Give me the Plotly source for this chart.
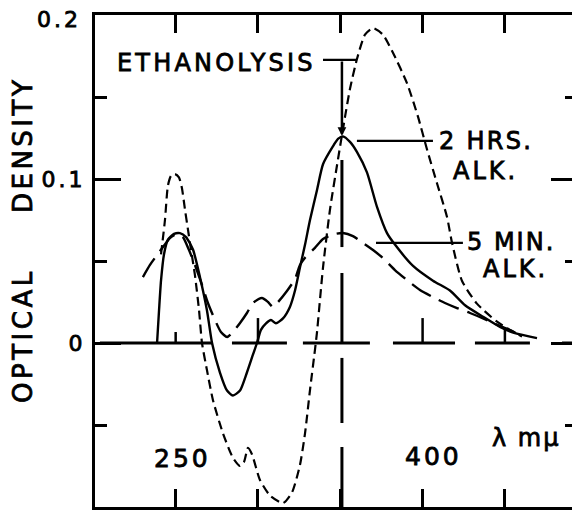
import plotly.graph_objects as go

# ---- data (wavelength in mμ, optical density) ----
wl_ethanolysis = [241.1, 243.5, 245.3, 247.2, 249.6, 252.0, 253.8, 255.7, 257.5, 259.3, 261.7, 264.2, 266.0,
                  269.0, 272.7, 278.7, 284.8, 289.1, 291.5, 293.9, 296.4, 301.2, 307.3, 315.2, 320.7, 325.5,
                  328.6, 331.6, 334.6, 335.8, 339.5, 343.7, 348.6, 352.9, 355.9, 360.1, 365.0, 369.9, 375.9,
                  382.0, 390.5, 397.2, 402.7, 408.7, 414.8, 417.9, 423.9, 433.0, 445.2, 453.1, 460.4]
od_ethanolysis = [0.054, 0.075, 0.096, 0.102, 0.103, 0.101, 0.0945, 0.081, 0.069, 0.057, 0.0415, 0.020, 0.0,
                  -0.0165, -0.035, -0.055, -0.070, -0.075, -0.0726, -0.064, -0.068, -0.0835, -0.093, -0.0976,
                  -0.091, -0.0744, -0.055, -0.0287, -0.0043, 0.006, 0.046, 0.081, 0.112, 0.138, 0.155, 0.173,
                  0.188, 0.192, 0.188, 0.177, 0.1585, 0.138, 0.118, 0.0976, 0.077, 0.061, 0.038, 0.024, 0.013,
                  0.008, 0.004]

wl_2hrs = [238.7, 239.9, 241.1, 242.9, 245.3, 249.0, 252.6, 256.3, 260.5, 264.8, 269.0, 272.1, 276.9, 281.2,
           284.8, 289.1, 293.3, 297.0, 299.4, 301.8, 304.9, 307.9, 310.9, 315.2, 319.4, 322.5, 325.5, 328.6,
           331.6, 335.8, 339.5, 345.6, 348.6, 351.6, 355.9, 360.1, 366.2, 372.3, 378.4, 383.2, 394.2, 406.3,
           416.6, 425.8, 436.7, 447.0, 456.1, 469.5]
od_2hrs = [0.0, 0.020, 0.038, 0.054, 0.063, 0.0665, 0.067, 0.0646, 0.057, 0.040, 0.020, 0.0, -0.018, -0.029,
           -0.032, -0.029, -0.018, -0.007, 0.0, 0.008, 0.012, 0.014, 0.012, 0.015, 0.022, 0.032, 0.046, 0.060,
           0.075, 0.093, 0.109, 0.120, 0.1244, 0.126, 0.1226, 0.1165, 0.104, 0.083, 0.067, 0.060, 0.047, 0.038,
           0.032, 0.023, 0.016, 0.0098, 0.006, 0.003]

wl_5min = [230.1, 234.4, 238.7, 242.3, 246.5, 250.8, 254.4, 258.1, 261.7, 266.0, 269.6, 273.9, 277.5, 281.2,
           284.8, 289.1, 293.3, 297.0, 302.4, 306.1, 309.1, 312.2, 317.6, 322.5, 325.5, 328.6, 334.6, 339.5,
           346.8, 351.6, 357.7, 363.8, 369.9, 375.9, 383.2, 390.5, 398.4, 406.3, 413.6, 420.9, 428.8, 439.1,
           447.0, 453.1, 461.0]
od_5min = [0.0402, 0.0476, 0.0537, 0.0585, 0.064, 0.0665, 0.0646, 0.0567, 0.0476, 0.0354, 0.0244, 0.014,
           0.0067, 0.0037, 0.0067, 0.0122, 0.0183, 0.0244, 0.0274, 0.025, 0.022, 0.025, 0.0317, 0.039, 0.0476,
           0.052, 0.058, 0.0634, 0.0665, 0.0671, 0.0652, 0.061, 0.0567, 0.0518, 0.0445, 0.0384, 0.0323, 0.028,
           0.0244, 0.0213, 0.0183, 0.014, 0.0104, 0.0079, 0.0037]

x_ticks = [250, 300, 350, 400, 450]
x_labels = ["250", "400"]
y_ticks = [-0.1, 0.0, 0.1, 0.2]
y_ticktext = ["", "0", "0.1", ""]
y_top_label = "0.2"
y_minor = [-0.05, 0.05, 0.15]

# dashed baseline (OD = 0) pieces and the dashed marker at 350 mμ
zero_segments = [(204.0, 272.7), (284.2, 317.6), (327.3, 368.0), (382.0, 419.7), (431.8, 465.2), (484.7, 493.8)]
zero_ticks = [(250, 0.0067), (300, 0.0152), (400, 0.0152), (450, 0.009)]
MARK_WL = 351.0
mark_segments = [(0.1116, 0.0585), (0.0427, 0.0), (-0.0091, -0.0488), (-0.0634, -0.1)]

FONT = "DejaVu Sans"
PAGE_OFFSET = 8  # default body margin of the html page


def sp(text, px, stroke=0.8):
    return (f'<span style="letter-spacing:{px}px; stroke:black; stroke-width:{stroke}px">'
            f'{text}</span>')


fig = go.Figure()
fig.add_trace(go.Scatter(x=wl_ethanolysis, y=od_ethanolysis, mode="lines", name="Ethanolysis",
                         line=dict(color="black", width=2.2, dash="9px,5px", shape="spline", smoothing=0.6)))
fig.add_trace(go.Scatter(x=wl_2hrs, y=od_2hrs, mode="lines", name="2 hrs alk.",
                         line=dict(color="black", width=2.4, shape="spline", smoothing=0.6)))
fig.add_trace(go.Scatter(x=wl_5min, y=od_5min, mode="lines", name="5 min alk.",
                         line=dict(color="black", width=2.4, dash="22px,9px", shape="spline", smoothing=0.6)))

shapes = []
for a, b in zero_segments:
    shapes.append(dict(type="line", xref="x", yref="y", x0=a, x1=b, y0=0, y1=0,
                       line=dict(color="black", width=3)))
for xv, top in zero_ticks:
    shapes.append(dict(type="line", xref="x", yref="y", x0=xv, x1=xv, y0=0, y1=top,
                       line=dict(color="black", width=2.5)))
for a, b in mark_segments:
    shapes.append(dict(type="line", xref="x", yref="y", x0=MARK_WL, x1=MARK_WL, y0=a, y1=b,
                       line=dict(color="black", width=3)))
# leader lines for labels
leaders = [(339.5, 360.1, 0.1726), (360.1, 406.3, 0.1232), (371.7, 424.5, 0.061)]
for a, b, yv in leaders:
    shapes.append(dict(type="line", xref="x", yref="y", x0=a, x1=b, y0=yv, y1=yv,
                       line=dict(color="black", width=2.2)))

TXT = dict(size=24, family=FONT, color="black")
YT = dict(size=26, family=FONT, color="black")
annotations = [
    # arrow from the ethanolysis leader down to the 2 hr peak
    dict(x=MARK_WL, y=0.1262, ax=MARK_WL, ay=0.1726, axref="x", ayref="y", xref="x", yref="y",
         text="", showarrow=True, arrowhead=2, arrowsize=0.7, arrowwidth=2.5, arrowcolor="black"),
    dict(x=213.1, y=0.1707, xref="x", yref="y", text=sp("ETHANOLYSIS", 3.2), showarrow=False,
         xanchor="left", yanchor="middle", font=TXT),
    dict(x=438.5, y=0.1232, xref="x", yref="y", text=sp("2 HRS.", 2.3), showarrow=False,
         xanchor="center", yanchor="middle", font=TXT),
    dict(x=438.5, y=0.1049, xref="x", yref="y", text=sp("ALK.", 3), showarrow=False,
         xanchor="center", yanchor="middle", font=TXT),
    dict(x=453.7, y=0.0616, xref="x", yref="y", text=sp("5 MIN.", 2), showarrow=False,
         xanchor="center", yanchor="middle", font=TXT),
    dict(x=456.7, y=0.0451, xref="x", yref="y", text=sp("ALK.", 3), showarrow=False,
         xanchor="center", yanchor="middle", font=TXT),
    dict(x=462.8, y=-0.0579, xref="x", yref="y", text=sp("λ mμ", 2), showarrow=False,
         xanchor="center", yanchor="middle", font=dict(size=24, family=FONT, color="black")),
    dict(x=-0.1494, y=0.0049, xref="paper", yref="y", text=sp("OPTICAL", 3.5), textangle=-90,
         showarrow=False, xanchor="center", yanchor="middle", font=YT),
    dict(x=-0.1494, y=0.1207, xref="paper", yref="y", text=sp("DENSITY", 3.5), textangle=-90,
         showarrow=False, xanchor="center", yanchor="middle", font=YT),
    dict(x=-0.0249, y=0.197, xref="paper", yref="y", text=sp(y_top_label, 3), showarrow=False,
         xanchor="right", yanchor="middle", font=dict(size=22, family=FONT, color="black")),
]
label_pos = {"250": (254.4, -0.0707), "400": (406.6, -0.0695)}
for lab in x_labels:
    xv, yv = label_pos[lab]
    annotations.append(dict(x=xv, y=yv, xref="x", yref="y", text=sp(lab, 3), showarrow=False,
                            xanchor="center", yanchor="middle", font=dict(size=25, family=FONT, color="black")))

fig.update_layout(
    width=580 - PAGE_OFFSET, height=512 - PAGE_OFFSET,
    margin=dict(l=95 - PAGE_OFFSET, r=3, t=15 - PAGE_OFFSET, b=5, autoexpand=False),
    paper_bgcolor="white", plot_bgcolor="white",
    showlegend=False,
    font=dict(family=FONT, color="black"),
    shapes=shapes, annotations=annotations,
)
fig.update_xaxes(range=[201.0, 493.8], tickvals=x_ticks, showticklabels=False, ticks="inside",
                 ticklen=18, tickwidth=2.5, tickcolor="black", showline=True, linewidth=3,
                 linecolor="black", mirror="ticks", showgrid=False, zeroline=False, automargin=False)
fig.update_yaxes(range=[-0.1, 0.2], tickvals=y_ticks, ticktext=[sp(t, 3) for t in y_ticktext],
                 ticks="inside", ticklen=26, tickwidth=2.5, tickcolor="black", showline=True,
                 linewidth=3, linecolor="black", mirror="ticks", showgrid=False, zeroline=False,
                 automargin=False,
                 ticklabelstandoff=2, tickfont=dict(size=22, family=FONT, color="black"),
                 minor=dict(tickvals=y_minor, ticks="inside", ticklen=12, tickwidth=2.5, tickcolor="black"))

fig.write_html("out.html")
